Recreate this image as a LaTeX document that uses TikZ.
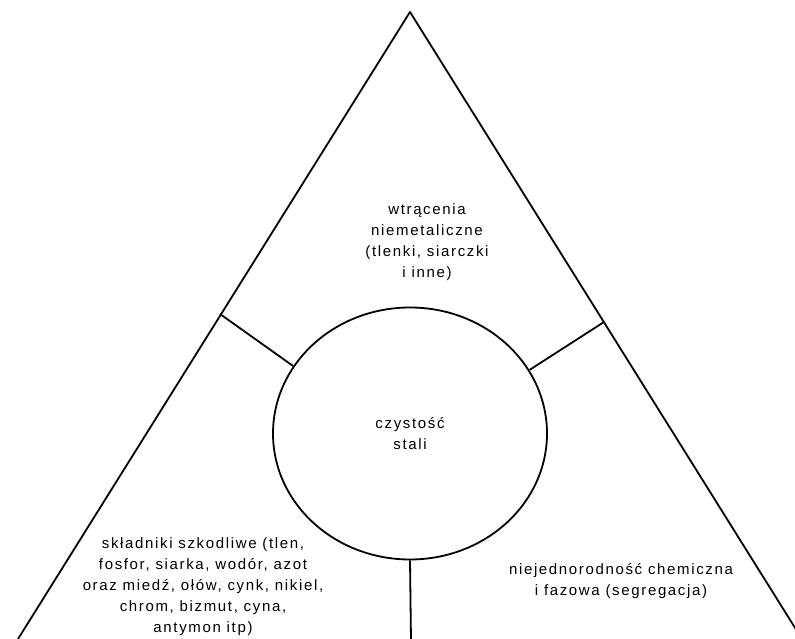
\documentclass[tikz,border=0pt]{standalone}
\usepackage{fontspec}
\setmainfont[LetterSpace=11]{Liberation Sans}
\usetikzlibrary{shapes.geometric}
\begin{document}
\begin{tikzpicture}[x=1pt,y=1pt,
  edge/.style={line width=1.8pt,line join=round},
  lbl/.style={align=center,font=\fontsize{15}{21}\selectfont,inner sep=0pt}]
\useasboundingbox (0,0) rectangle (795,639);
\clip (0,0) rectangle (795,639);
\coordinate (apex) at (410,627);
\coordinate (bl) at (18,0);
\coordinate (br) at (802,0);
\draw[edge] (bl) -- (apex) -- (br);
\node[ellipse,draw,line width=1.8pt,minimum width=274pt,minimum height=252pt,inner sep=0pt] (c) at (410,205.5) {};
\coordinate (tl) at (220,325);
\coordinate (tr) at (604,317);
\coordinate (tb) at (411,-2);
\draw[edge] (tl) -- (c.150);
\draw[edge] (tr) -- (c.28);
\draw[edge] (c.south) -- (tb);
\node[lbl] (t1) at (427,397) {wtrącenia\\niemetaliczne\\(tlenki, siarczki\\i inne)};
\node[lbl] (t2) at (410,205) {czystość\\stali};
\node[lbl] (t3) at (203,52) {składniki szkodliwe (tlen,\\fosfor, siarka, wodór, azot\\oraz miedź, ołów, cynk, nikiel,\\chrom, bizmut, cyna,\\antymon itp)};
\node[lbl] (t4) at (621,58) {niejednorodność chemiczna\\i fazowa (segregacja)};
\end{tikzpicture}
\end{document}
